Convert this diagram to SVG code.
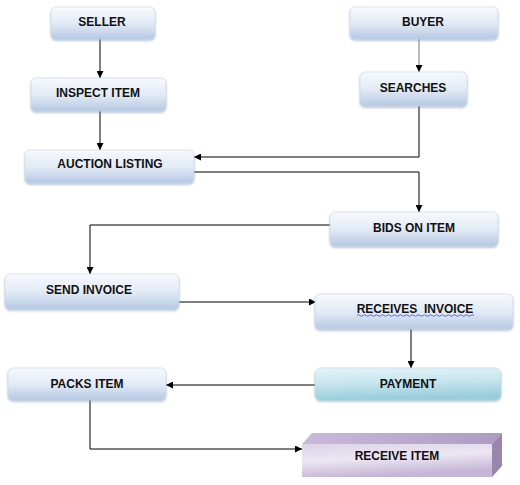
<svg xmlns="http://www.w3.org/2000/svg" width="520" height="485" viewBox="0 0 520 485">
<defs>
<linearGradient id="gBlue" x1="0" y1="0" x2="0" y2="1">
<stop offset="0" stop-color="#f7f9fd"/>
<stop offset="0.5" stop-color="#e3ebf6"/>
<stop offset="1" stop-color="#b5c9e3"/>
</linearGradient>
<linearGradient id="gCyan" x1="0" y1="0" x2="0.15" y2="1">
<stop offset="0" stop-color="#e6f4f8"/>
<stop offset="0.5" stop-color="#c6e5ee"/>
<stop offset="1" stop-color="#97cddb"/>
</linearGradient>
<linearGradient id="gPurple" x1="0" y1="0" x2="0.3" y2="1">
<stop offset="0" stop-color="#ded3e8"/>
<stop offset="0.5" stop-color="#ece6f2"/>
<stop offset="1" stop-color="#c5b5d6"/>
</linearGradient>
<linearGradient id="gTop" x1="0" y1="0" x2="1" y2="0">
<stop offset="0" stop-color="#c9b9da"/>
<stop offset="1" stop-color="#ae9bc4"/>
</linearGradient>
<filter id="sh" x="-10%" y="-20%" width="120%" height="150%">
<feDropShadow dx="0" dy="1.5" stdDeviation="1.2" flood-color="#7a8aa0" flood-opacity="0.55"/>
</filter>
<marker id="ah" viewBox="0 0 10 10" refX="10" refY="5" markerWidth="7" markerHeight="7" markerUnits="userSpaceOnUse" orient="auto">
<path d="M0,0 L10,5 L0,10 z" fill="#000"/>
</marker>
</defs>
<style>
.box{fill:url(#gBlue);stroke:#c9d6e8;stroke-width:0.6;filter:url(#sh)}
.lbl{font-family:"Liberation Sans",Arial,sans-serif;font-weight:bold;font-size:12px;fill:#111;text-anchor:middle}
.con{fill:none;stroke:#000;stroke-width:1;marker-end:url(#ah)}
</style>
<rect width="520" height="485" fill="#fff"/>
<g id="connectors">
<path class="con" d="M100,39 V78"/>
<path class="con" d="M100,111 V150"/>
<path class="con" d="M419,39 V72" style="stroke:#777"/>
<path class="con" d="M419,106 V157 H194"/>
<path class="con" d="M194,172 H419 V212"/>
<path class="con" d="M330,225 H90 V274"/>
<path class="con" d="M179,302 H316"/>
<path class="con" d="M411,329 V368"/>
<path class="con" d="M315,385 H166"/>
<path class="con" d="M90,400 V449 H302"/>
</g>
<g id="seller"><rect class="box" x="51" y="7" width="104" height="32" rx="5"/><text class="lbl" x="102" y="26">SELLER</text></g>
<g id="inspect"><rect class="box" x="31" y="78" width="135" height="33" rx="5"/><text class="lbl" x="98" y="97">INSPECT ITEM</text></g>
<g id="auction"><rect class="box" x="25" y="150" width="169" height="33" rx="5"/><text class="lbl" x="110" y="168">AUCTION LISTING</text></g>
<g id="buyer"><rect class="box" x="350" y="7" width="148" height="32" rx="5"/><text class="lbl" x="423" y="26">BUYER</text></g>
<g id="searches"><rect class="box" x="360" y="72" width="107" height="34" rx="5"/><text class="lbl" x="413" y="92">SEARCHES</text></g>
<g id="bids"><rect class="box" x="330" y="212" width="168" height="34" rx="5"/><text class="lbl" x="414" y="232">BIDS ON ITEM</text></g>
<g id="send"><rect class="box" x="5" y="274" width="174" height="35" rx="5"/><text class="lbl" x="89" y="294">SEND INVOICE</text></g>
<g id="receives"><rect class="box" x="315" y="294" width="198" height="35" rx="5"/><text class="lbl" x="415" y="313" xml:space="preserve">RECEIVES  INVOICE</text>
<path d="M357,315.5 q1.5,-1.5 3,0 t3,0 t3,0 t3,0 t3,0 t3,0 t3,0 t3,0 t3,0 t3,0 t3,0 t3,0 t3,0 t3,0 t3,0 t3,0 t3,0 t3,0 t3,0 t3,0 t3,0 t3,0 t3,0 t3,0 t3,0 t3,0 t3,0 t3,0 t3,0 t3,0 t3,0 t3,0 t3,0 t3,0 t3,0 t3,0 t3,0 t3,0 t3,0" fill="none" stroke="#3050e0" stroke-width="0.8"/></g>
<g id="payment"><rect x="315" y="368" width="186" height="32" rx="6" fill="url(#gCyan)" stroke="#b6dce6" stroke-width="0.6" filter="url(#sh)"/><text class="lbl" x="408" y="388">PAYMENT</text></g>
<g id="packs"><rect class="box" x="8" y="368" width="158" height="32" rx="5"/><text class="lbl" x="87" y="388">PACKS ITEM</text></g>
<g id="receive-item">
<polygon points="302,444 312,433 502,433 492,444" fill="url(#gTop)"/>
<polygon points="492,444 502,433 502,466 492,477" fill="#9886ad"/>
<rect x="302" y="444" width="190" height="33" fill="url(#gPurple)"/>
<text class="lbl" x="397" y="460">RECEIVE ITEM</text>
</g>
</svg>
